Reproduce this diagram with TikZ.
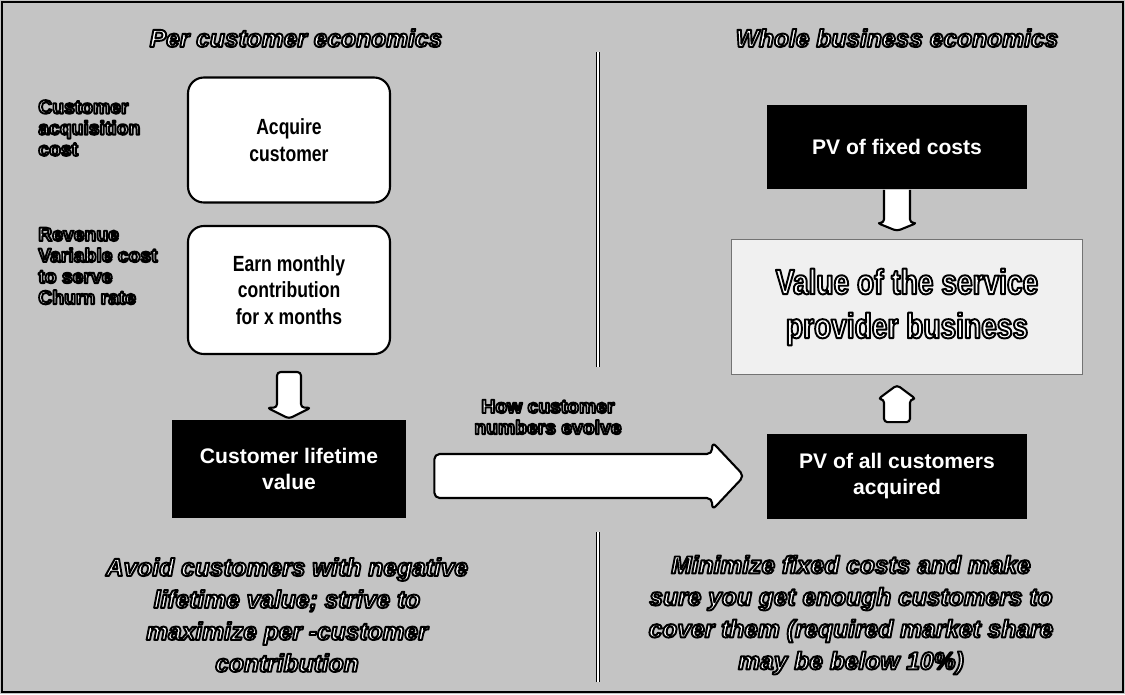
\documentclass[tikz,border=0pt]{standalone}
\usepackage{fontspec}
\setmainfont{Liberation Sans}
\usetikzlibrary{calc}

\definecolor{bggray}{gray}{0.77}
\definecolor{lightpanel}{gray}{0.94}

% white letters with a black outline
\newcommand\outl[1]{\special{pdf:code 0 G 1.1 w 1 j 2 Tr}#1\special{pdf:code 0 Tr 0 j}}

\tikzset{
  whitebox/.style={draw, line width=1.2pt, rounded corners=9pt, fill=white,
    align=center, minimum width=4.04cm,
    font=\fontsize{12.5}{15}\selectfont\bfseries\addfontfeature{FakeStretch=0.8}},
  blackbox/.style={fill=black, text=white, align=center,
    font=\fontsize{12}{15}\selectfont\bfseries},
  title/.style={text=white, font=\fontsize{14}{17}\selectfont\bfseries\itshape},
  driver/.style={text=white, align=left, inner sep=0pt,
    font=\fontsize{11}{12}\selectfont\bfseries},
  advice/.style={text=white, align=center,
    font=\fontsize{14}{18.2}\selectfont\bfseries\itshape},
  valuebox/.style={draw=black!55, line width=0.6pt, fill=lightpanel, text=white,
    align=center, minimum width=7.02cm, minimum height=2.7cm,
    font=\fontsize{20}{25}\selectfont\bfseries\addfontfeature{FakeStretch=0.8}},
  barrow/.style={draw, line width=1.2pt, fill=white, line join=round},
  divider/.style={line width=0.7pt, double=white, double distance=1.2pt}
}

\begin{document}
\begin{tikzpicture}[x=0.02cm, y=-0.02cm]
% background and frame
\useasboundingbox (0,0) rectangle (1125,694);
\fill[bggray] (0,0) rectangle (1125,694);
\draw[line width=0.8pt] (2,2) rectangle (1123,692);

% divider between the two halves
\coordinate (divA) at (598,52);
\coordinate (divB) at (598,367);
\coordinate (divC) at (598,532);
\coordinate (divD) at (598,682);
\draw[divider] (divA) -- (divB);
\draw[divider] (divC) -- (divD);

% per customer side
\node[title] (pertitle) at (296,38) {\outl{Per customer economics}};
\node[driver, anchor=west] (cac) at (38,128) {\outl{Customer\\acquisition\\cost}};
\node[driver, anchor=west] (rev) at (38,266) {\outl{Revenue\\Variable cost\\to serve\\Churn rate}};
\node[whitebox, minimum height=2.5cm] (acq) at (289,140) {Acquire\\customer};
\node[whitebox, minimum height=2.56cm] (earn) at (289,290) {Earn monthly\\contribution\\for x months};
\node[blackbox, minimum width=4.68cm, minimum height=1.96cm] (clv) at (289,469) {Customer lifetime\\value};
\node[advice] (avoid) at (287,615) {\outl{Avoid customers with negative\\lifetime value; strive to\\maximize per -customer\\contribution}};

% whole business side
\node[title] (wholetitle) at (897,38) {\outl{Whole business economics}};
\node[blackbox, minimum width=5.22cm, minimum height=1.7cm] (pvfix) at (897,147) {PV of fixed costs};
\node[valuebox] (value) at (907,307) {\outl{Value of the service\\provider business}};
\node[blackbox, minimum width=5.22cm, minimum height=1.7cm] (pvall) at (897,476) {PV of all customers\\acquired};
\node[advice] (minimize) at (851,615) {\outl{Minimize fixed costs and make\\sure you get enough customers to\\cover them (required market share\\may be below 10\%)}};
\node[driver, align=center] (evolve) at (548,417) {\outl{How customer\\numbers evolve}};

% block arrows
\draw[barrow, rounded corners=2pt] ($(earn.south)+(-12,17)$) -- ($(clv.north)+(-12,-12)$) -- ++(-10,0)
  -- ($(clv.north)+(0,-1)$) -- ($(clv.north)+(22,-12)$) -- ++(-10,0) -- ($(earn.south)+(12,17)$) -- cycle;
\draw[barrow, rounded corners=2pt] ($(pvfix.south)+(-13,0)$) -- ($(pvfix.south)+(-13,33)$) -- ++(-7,0)
  -- ($(pvfix.south |- value.north)+(0,-8)$) -- ($(pvfix.south)+(20,33)$) -- ++(-7,0) -- ($(pvfix.south)+(13,0)$);
\draw[barrow, rounded corners=2pt] ($(pvall.north)+(-13,-11)$) -- ($(pvall.north)+(-13,-34)$) -- ++(-6,0)
  -- ($(pvall.north |- value.south)+(0,10)$) -- ($(pvall.north)+(19,-34)$) -- ++(-6,0) -- ($(pvall.north)+(13,-11)$) -- cycle;
\coordinate (bs) at ($(clv.east |- pvall.west)+(28,0)$);
\coordinate (be) at ($(pvall.west)+(-22,0)$);
\draw[barrow, rounded corners=3pt] ($(bs)+(0,-22)$) -- ($(be)+(-32,-22)$) -- ++(0,-12) -- (be)
  -- ($(be)+(-32,34)$) -- ++(0,-12) -- ($(bs)+(0,22)$) -- cycle;
\end{tikzpicture}
\end{document}
